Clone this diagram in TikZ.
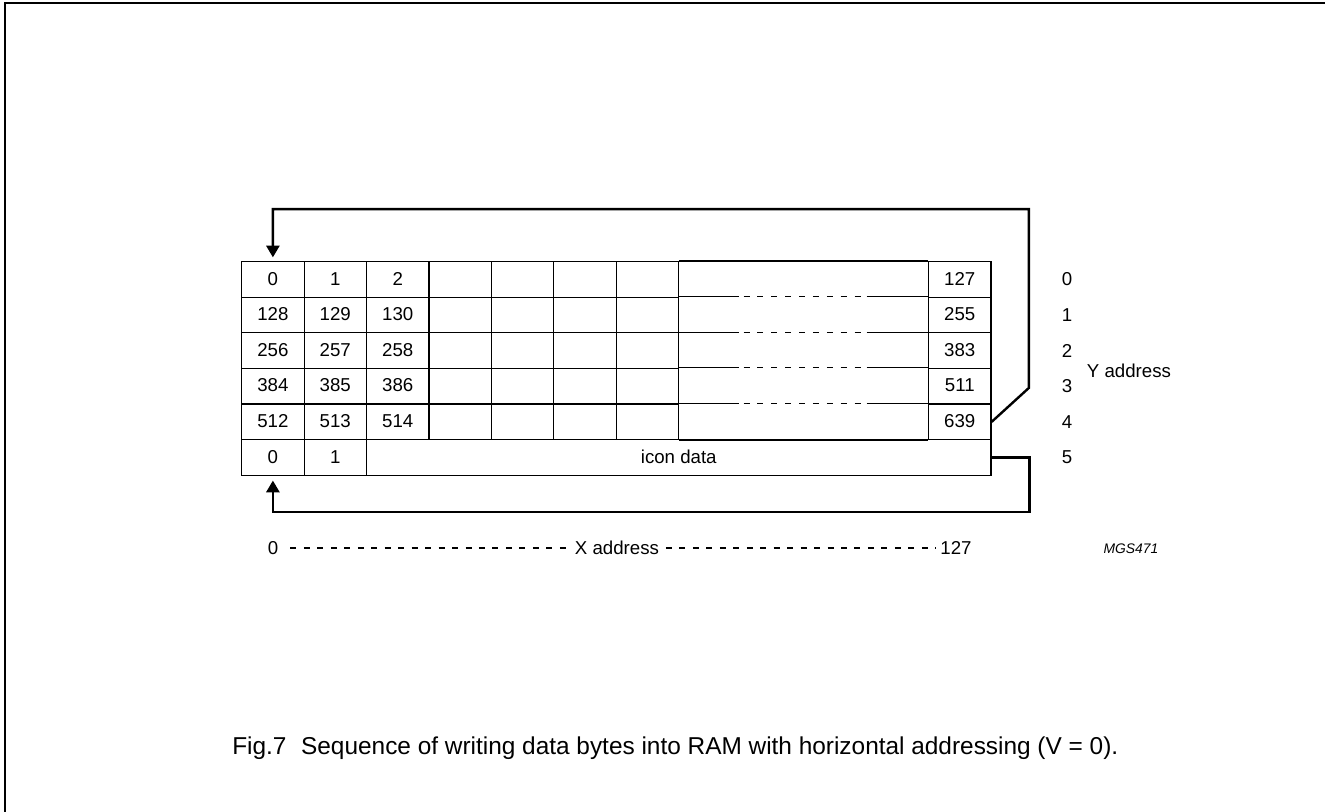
\documentclass[tikz,border=0pt]{standalone}
\usepackage{fontspec}
\setmainfont{Liberation Sans}
\usetikzlibrary{arrows.meta}
\begin{document}
\begin{tikzpicture}[x=0.75pt,y=-0.75pt,
  tbl/.style={line width=0.9pt},
  cell/.style={draw,tbl,minimum width=46.8pt,minimum height=26.7pt,inner sep=0pt,anchor=center,text height=1.6ex,text depth=0pt,font=\fontsize{14}{16}\selectfont},
  lbl/.style={inner sep=0pt,font=\fontsize{14}{16}\selectfont},
  flow/.style={line width=1.8pt,-{Triangle[length=8.8pt,width=9.8pt]}},
  rowdash/.style={tbl,dash pattern=on 4.5pt off 5.9pt},
  xdash/.style={line width=0.9pt,dash pattern=on 4.5pt off 5.6pt}]
\useasboundingbox (0,0) rectangle (1325,812);
% frame
\draw[line width=1.5pt] (5,812) -- (5,3) -- (1325,3);
% table rows
\foreach \r/\a/\b/\c/\z in {0/0/1/2/127,1/128/129/130/255,2/256/257/258/383,3/384/385/386/511,4/512/513/514/639}{
  \pgfmathsetmacro\yy{279.5+35.6*\r}
  \node[cell] (c\r-0) at (272.9,\yy) {\a};
  \node[cell] (c\r-1) at (335.3,\yy) {\b};
  \node[cell] (c\r-2) at (397.7,\yy) {\c};
  \foreach \k in {3,...,6}{\node[cell] (c\r-\k) at ({272.9+62.4*\k},\yy) {};}
  \node[cell] (c\r-z) at (959.8,\yy) {\z};
}
% wide column borders
\draw[tbl] (c0-6.north east) -- (c0-z.north west);
\draw[tbl] (c4-6.south east) -- (c4-z.south west);
\foreach \r in {1,...,4}{
  \draw[tbl] (c\r-6.north east) -- ++(59.8,0);
  \draw[rowdash] ([xshift=64.5*0.75pt]c\r-6.north east) -- ++(119,0);
  \draw[tbl] ([xshift=-61.3*0.75pt]c\r-z.north west) -- (c\r-z.north west);
}
% icon row
\node[cell] (i0) at (272.9,457.5) {0};
\node[cell] (i1) at (335.3,457.5) {1};
\node[cell,minimum width=468.4pt] (icon) at (678.75,457.5) {icon data};
% Y address labels
\foreach \r in {0,...,5}{\node[lbl] (y\r) at (1067,{279.5+35.6*\r}) {\r};}
\node[lbl,anchor=west] (yaddr) at (1086.7,371) {Y address};
% flow arrows
\draw[flow,shorten >=2.8pt] (c4-z.east) -- ++(37.3,-34) -- ++(0,-178.7) -| (c0-0.north);
\draw[flow,shorten >=3.5pt] (icon.east) -- ++(38,0) -- ++(0,54.8) -| (i0.south);
% X address line
\node[lbl] (x0) at (273,548) {0};
\node[lbl] (xa) at (617,548) {X address};
\node[lbl] (x127) at (956,548) {127};
\draw[xdash,shorten <=9pt,shorten >=5pt] (x0.east) -- (xa.west);
\draw[xdash,shorten <=5pt,shorten >=3pt] (xa.east) -- (x127.west);
\node[inner sep=0pt,font=\fontsize{10.4}{12}\selectfont\itshape] (mgs) at (1131,549) {MGS471};
% caption
\node[inner sep=0pt,anchor=west,font=\fontsize{18.3}{21}\selectfont] (cap) at (232,748) {Fig.7\hspace{0.6em}Sequence of writing data bytes into RAM with horizontal addressing (V = 0).};
\end{tikzpicture}
\end{document}
